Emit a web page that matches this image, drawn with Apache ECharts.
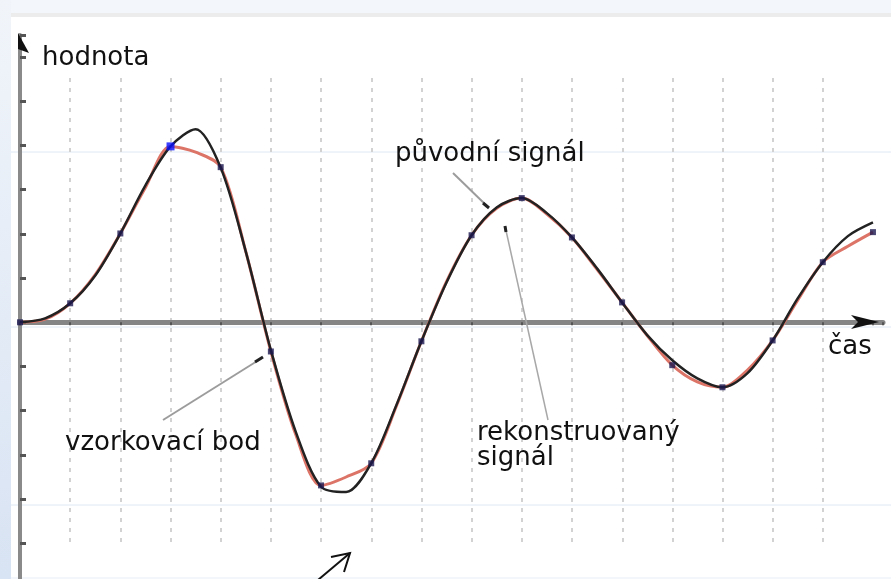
<!DOCTYPE html>
<html>
<head>
<meta charset="utf-8">
<title>vzorkování signálu</title>
<script src="https://cdn.jsdelivr.net/npm/echarts@6.0.0/dist/echarts.min.js"></script>
<style>
  html, body { margin: 0; padding: 0; }
  body {
    width: 891px; height: 579px; position: relative; overflow: hidden;
    background: #f3f6fa;
  }
  #side {
    position: absolute; left: 0; top: 0; width: 11px; height: 579px;
    background: linear-gradient(#f1f5fa, #d8e3f3);
  }
  #panel {
    position: absolute; left: 11px; top: 13px; right: 0; bottom: 2px;
    background: #fff; border-top: 4px solid #ececec;
  }
  /* graf je vyšší než okno, aby osa y mohla pokračovat pod spodní okraj */
  #chart { position: absolute; left: 0; top: 0; width: 891px; height: 600px; }
</style>
</head>
<body>
<div id="side"></div>
<div id="panel"></div>
<div id="chart"></div>
<script>
// čas v krocích vzorkování (0.5)
const times = [0, 0.5, 1, 1.5, 2, 2.5, 3, 3.5, 4, 4.5, 5, 5.5, 6, 6.5, 7, 7.5, 8, 8.5,
  9, 9.5, 10, 10.5, 11, 11.5, 12, 12.5, 13, 13.5, 14, 14.5, 15, 15.5, 16, 16.5, 17]

// původní signál
const original = [0, 0.09, 0.43, 1.06, 2.01, 3.10, 3.98, 4.37, 3.50, 1.60, -0.63, -2.49,
  -3.72, -3.84, -3.19, -1.88, -0.43, 0.90, 1.97, 2.60, 2.81, 2.47, 1.92, 1.22, 0.45,
  -0.29, -0.86, -1.27, -1.47, -1.15, -0.41, 0.54, 1.36, 1.95, 2.26]

// rekonstruovaný signál
const reconstructed = [0, 0.07, 0.43, 1.08, 2.01, 3.05, 3.98, 3.85, 3.51, 1.60, -0.66, -2.55,
  -3.69, -3.50, -3.19, -1.90, -0.43, 0.92, 1.97, 2.58, 2.81, 2.45, 1.92, 1.20, 0.45,
  -0.30, -0.97, -1.35, -1.47, -1.08, -0.41, 0.50, 1.36, 1.72, 2.04]

// vzorkovací body
const sampleTimes = [0, 1, 2, 3, 4, 5, 6, 7, 8, 9, 10, 11, 12, 13, 14, 15, 16, 17]
const sampleValues = [0, 0.43, 2.01, 3.98, 3.51, -0.66, -3.69, -3.19, -0.43, 1.97, 2.81,
  1.92, 0.45, -0.97, -1.47, -0.41, 1.36, 2.04]
const highlightIndex = 3

const font = '26px "DejaVu Sans", sans-serif'
const leader = { stroke: '#9c9c9c', lineWidth: 2 }
const tip = { stroke: '#222', lineWidth: 3 }

const chart = echarts.init(document.getElementById('chart'), null, { renderer: 'canvas' })

const option = {
  animation: false,
  backgroundColor: 'transparent',
  grid: [
    { left: 20, top: 35, width: 863, height: 552.5 },
    { left: 20, top: 78, width: 803.2, height: 470 } // tečkované svislice
  ],
  xAxis: [
    {
      type: 'value', gridIndex: 0, min: 0, max: 17.2, interval: 1,
      axisLine: { onZero: true, lineStyle: { color: '#858585', width: 5 } },
      axisTick: { show: true, length: 3, lineStyle: { color: '#555', width: 2 } },
      axisLabel: { show: false },
      splitLine: { show: false }
    },
    {
      type: 'value', gridIndex: 1, min: 0, max: 16, interval: 1,
      axisLine: { show: false },
      axisTick: { show: false },
      axisLabel: { show: false },
      splitLine: { show: true, lineStyle: { color: '#d2d2d2', width: 2, type: [4, 6] } }
    }
  ],
  yAxis: [
    {
      type: 'value', gridIndex: 0, min: -6, max: 6.5, interval: 1,
      axisLine: { show: true, onZero: false, lineStyle: { color: '#8a8a8a', width: 4 } },
      axisTick: { show: true, inside: true, length: 6, lineStyle: { color: '#555', width: 3 } },
      axisLabel: { show: false },
      splitLine: { show: false }
    },
    { type: 'value', gridIndex: 1, min: 0, max: 1, show: false }
  ],
  series: [
    {
      name: 'rekonstruovaný signál',
      type: 'line',
      smooth: 0.3,
      symbol: 'none',
      lineStyle: { color: '#dc7468', width: 3 },
      data: times.map((t, i) => [t, reconstructed[i]]),
      z: 2
    },
    {
      name: 'původní signál',
      type: 'line',
      smooth: 0.3,
      symbol: 'none',
      lineStyle: { color: '#222', width: 2.5 },
      data: times.map((t, i) => [t, original[i]]),
      z: 3
    },
    {
      name: 'vzorkovací bod',
      type: 'scatter',
      symbol: 'rect',
      data: sampleTimes.map((t, i) => ({
        value: [t, sampleValues[i]],
        symbolSize: i === highlightIndex ? 8 : 6,
        itemStyle: { color: i === highlightIndex ? '#0a10ff' : '#1b1850' }
      })),
      z: 4
    }
  ],
  graphic: [
    // slabé vodorovné linky z podkladu
    { type: 'line', shape: { x1: 11, y1: 152, x2: 891, y2: 152 }, style: { stroke: '#dde8f4', lineWidth: 1 }, z: -1 },
    { type: 'line', shape: { x1: 11, y1: 327, x2: 891, y2: 327 }, style: { stroke: '#dde8f4', lineWidth: 1 }, z: -1 },
    { type: 'line', shape: { x1: 11, y1: 505, x2: 891, y2: 505 }, style: { stroke: '#dde8f4', lineWidth: 1 }, z: -1 },
    // šipky os
    { type: 'polygon', shape: { points: [[18, 33], [29, 53], [18, 49]] }, style: { fill: '#111' }, z: 10 },
    { type: 'polygon', shape: { points: [[851, 315], [879, 322], [851, 329], [858, 322]] }, style: { fill: '#111' }, z: 10 },
    // popisky
    { type: 'text', x: 42, y: 45, style: { text: 'hodnota', font: font, fill: '#111' }, z: 10 },
    { type: 'text', x: 828, y: 334, style: { text: 'čas', font: font, fill: '#111' }, z: 10 },
    { type: 'text', x: 395, y: 141, style: { text: 'původní signál', font: font, fill: '#111' }, z: 10 },
    { type: 'text', x: 477, y: 421, style: { text: 'rekonstruovaný\nsignál', font: font, fill: '#111', lineHeight: 25 }, z: 10 },
    { type: 'text', x: 65, y: 430, style: { text: 'vzorkovací bod', font: font, fill: '#111' }, z: 10 },
    // odkazové čáry
    { type: 'line', shape: { x1: 163, y1: 420, x2: 262, y2: 358 }, style: leader, z: 9 },
    { type: 'line', shape: { x1: 255, y1: 362, x2: 263, y2: 357 }, style: tip, z: 9 },
    { type: 'line', shape: { x1: 453, y1: 173, x2: 488, y2: 207 }, style: leader, z: 9 },
    { type: 'line', shape: { x1: 483, y1: 203, x2: 489, y2: 208 }, style: tip, z: 9 },
    { type: 'line', shape: { x1: 548, y1: 420, x2: 505, y2: 226 }, style: { stroke: '#a8a8a8', lineWidth: 1.5 }, z: 9 },
    { type: 'line', shape: { x1: 505, y1: 226, x2: 506, y2: 232 }, style: tip, z: 9 },
    // šipka dole
    { type: 'polyline', shape: { points: [[318, 580], [350, 553]] }, style: { stroke: '#111', lineWidth: 2 }, z: 10 },
    { type: 'polyline', shape: { points: [[331, 557], [350, 553], [344, 572]] }, style: { stroke: '#111', lineWidth: 2, fill: null }, z: 10 }
  ]
}

chart.setOption(option)
</script>
</body>
</html>
